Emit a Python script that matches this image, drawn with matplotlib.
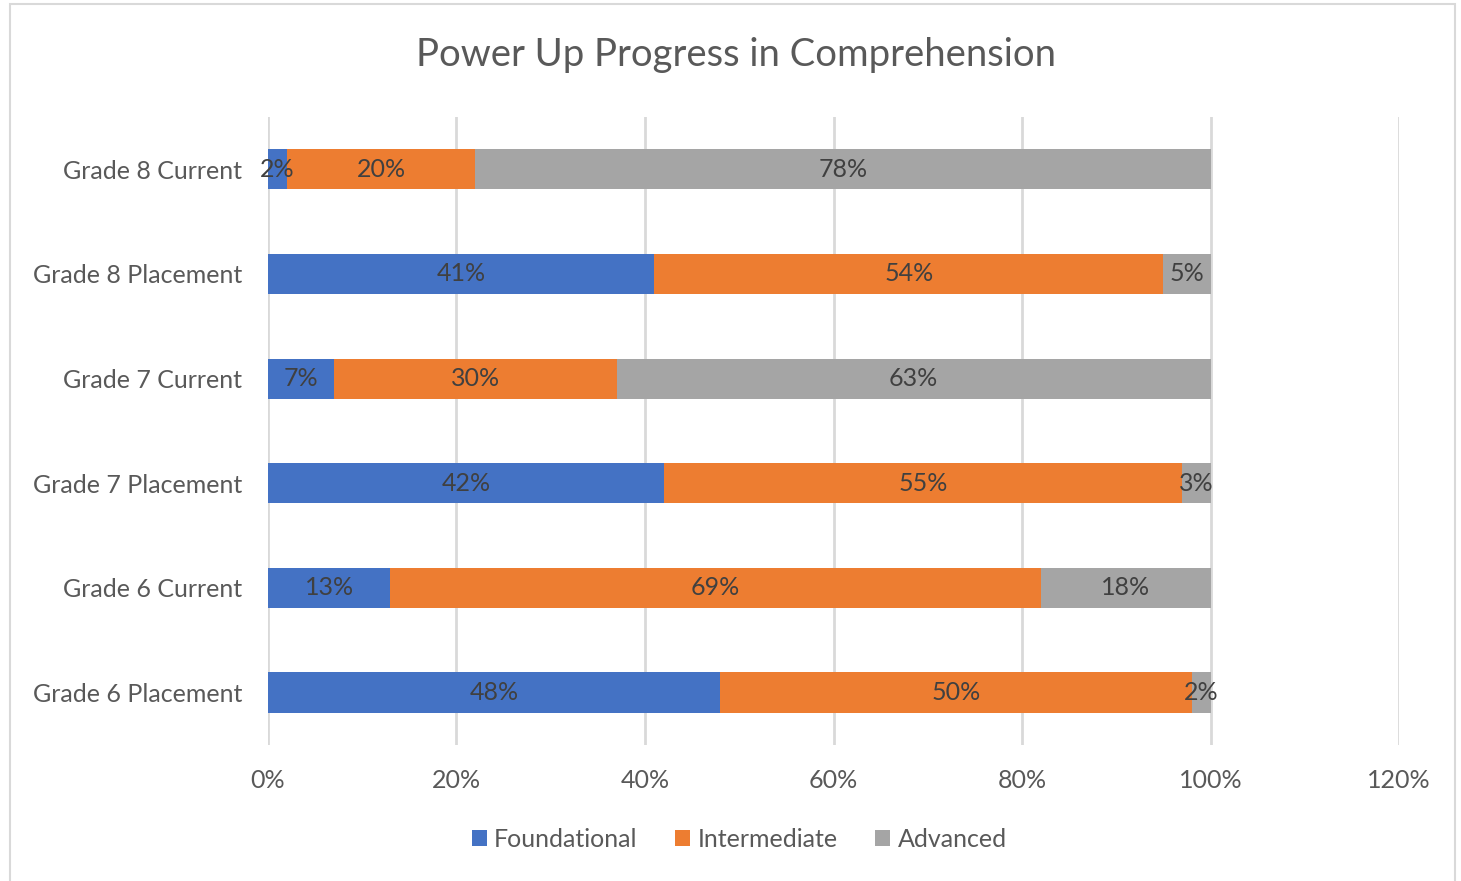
import matplotlib.pyplot as plt
import numpy as np
from matplotlib.patches import Rectangle

# Data (bottom to top, as drawn)
categories = ['Grade 6 Placement', 'Grade 6 Current', 'Grade 7 Placement',
              'Grade 7 Current', 'Grade 8 Placement', 'Grade 8 Current']
foundational = [48, 13, 42, 7, 41, 2]
intermediate = [50, 69, 55, 30, 54, 20]
advanced = [2, 18, 3, 63, 5, 78]
series_names = ['Foundational', 'Intermediate', 'Advanced']
colors = ['#4472C4', '#ED7D31', '#A5A5A5']
xticks = [0, 20, 40, 60, 80, 100, 120]

plt.rcParams['font.family'] = ['Lato', 'DejaVu Sans']

fig = plt.figure(figsize=(14.61, 8.81), dpi=100)
ax = fig.add_axes([0.1834, 0.1544, 0.7742, 0.7128])

# light frame around the whole chart
fig.patches.append(Rectangle((0.007, -0.01), 0.989, 1.005, transform=fig.transFigure,
                             fill=False, edgecolor='#D9D9D9', linewidth=1.5))

y = np.arange(len(categories))
left = np.zeros(len(categories))
for name, vals, c in zip(series_names, [foundational, intermediate, advanced], colors):
    vals = np.array(vals, dtype=float)
    bars = ax.barh(y, vals, left=left, height=0.385, color=c, label=name, zorder=3)
    for b, v, l in zip(bars, vals, left):
        ax.text(l + v / 2, b.get_y() + b.get_height() / 2, f'{int(v)}%',
                ha='center', va='center', fontsize=18, color='#404040', zorder=4)
    left += vals

ax.set_xlim(0, 120)
ax.set_ylim(-0.5, 5.5)
ax.set_xticks(xticks)
ax.set_xticklabels([f'{t}%' for t in xticks])
ax.set_yticks(y)
ax.set_yticklabels(categories)
ax.tick_params(axis='both', length=0, labelsize=18, labelcolor='#595959')
ax.tick_params(axis='x', pad=17)
ax.tick_params(axis='y', pad=18.5)
ax.grid(axis='x', color='#D9D9D9', linewidth=2, zorder=0)
for s in ax.spines.values():
    s.set_visible(False)

fig.suptitle('Power Up Progress in Comprehension', x=0.504, y=0.958,
             fontsize=27.5, color='#595959')

fig.legend(loc='center', bbox_to_anchor=(0.506, 0.047), ncol=3, frameon=False,
           fontsize=18, labelcolor='#595959', handlelength=0.6, handleheight=0.6,
           handletextpad=0.3, columnspacing=1.5)

fig.savefig('out.png', dpi=100)
